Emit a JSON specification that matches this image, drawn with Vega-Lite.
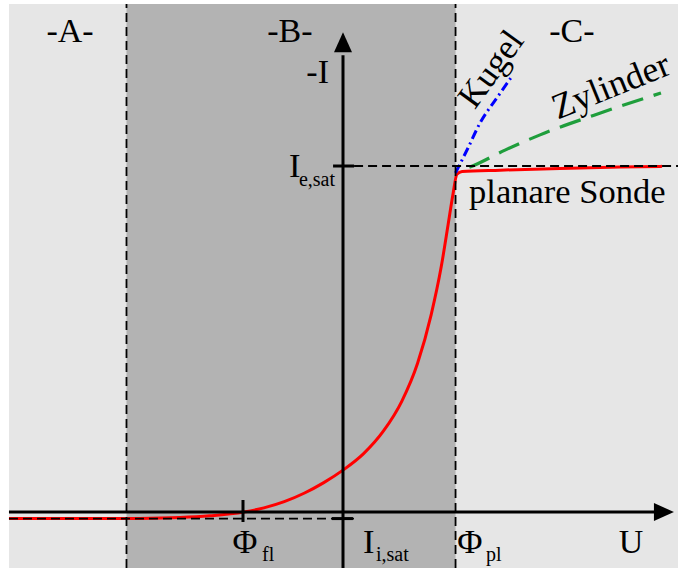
{
  "$schema": "https://vega.github.io/schema/vega-lite/v6.json",
  "width": 678,
  "height": 572,
  "padding": 0,
  "autosize": {"type": "none"},
  "background": "white",
  "config": {"view": {"stroke": null}, "font": "Liberation Serif"},
  "datasets": {
    "panel": [{"U": -14.78, "U2": 14.823, "I": -1.62, "I2": 14.68}],
    "bereichB": [{"U": -9.58, "U2": 4.98, "I": -1.62, "I2": 14.68}],
    "planar": [
      {"U": -14.78, "I": -0.19}, {"U": -11.64, "I": -0.19}, {"U": -9.0, "I": -0.185},
      {"U": -7.2, "I": -0.16}, {"U": -5.9, "I": -0.11}, {"U": -4.38, "I": 0.0},
      {"U": -3.5, "I": 0.12}, {"U": -2.6, "I": 0.3}, {"U": -1.7, "I": 0.55},
      {"U": -0.85, "I": 0.85}, {"U": 0.0, "I": 1.21}, {"U": 0.9, "I": 1.68},
      {"U": 1.8, "I": 2.35}, {"U": 2.6, "I": 3.2}, {"U": 3.3, "I": 4.3},
      {"U": 3.9, "I": 5.7}, {"U": 4.35, "I": 7.1}, {"U": 4.65, "I": 8.3},
      {"U": 4.87, "I": 9.2}, {"U": 5.04, "I": 9.76}, {"U": 5.27, "I": 9.84},
      {"U": 6.95, "I": 9.88}, {"U": 9.6, "I": 9.93}, {"U": 12.26, "I": 9.97},
      {"U": 14.12, "I": 9.99}
    ],
    "kugel": [
      {"U": 4.98, "I": 9.8}, {"U": 5.53, "I": 10.52}, {"U": 6.06, "I": 11.24},
      {"U": 6.81, "I": 11.97}, {"U": 7.52, "I": 12.63}
    ],
    "zylinder": [
      {"U": 5.13, "I": 9.86}, {"U": 5.62, "I": 9.97}, {"U": 7.17, "I": 10.46},
      {"U": 8.72, "I": 10.9}, {"U": 11.11, "I": 11.47}, {"U": 14.07, "I": 12.11}
    ],
    "grenzen": [
      {"U": -9.58, "I": -1.62, "I2": 14.68},
      {"U": 4.98, "I": -1.62, "I2": 14.68}
    ],
    "saettigung": [
      {"U": 0.49, "U2": 14.823, "I": 10.0},
      {"U": -14.78, "U2": 0.53, "I": -0.19}
    ],
    "achseU": [{"U": -14.78, "U2": 13.8, "I": 0.0}],
    "achseI": [{"U": 0.0, "I": -1.62, "I2": 13.2}],
    "ticksV": [{"U": -4.425, "I": 0.347, "I2": -0.289}],
    "ticksH": [
      {"U": -0.44, "U2": 0.49, "I": 10.0},
      {"U": -0.49, "U2": 0.44, "I": -0.19}
    ],
    "pfeilI": [{"U": 0.0, "I": 13.58}],
    "pfeilU": [{"U": 14.2, "I": 0.0}],
    "titelMitte": [
      {"U": -12.08, "I": 13.58, "label": "-A-"},
      {"U": -2.35, "I": 13.58, "label": "-B-"},
      {"U": 10.13, "I": 13.58, "label": "-C-"},
      {"U": 12.75, "I": -1.185, "label": "U"},
      {"U": -4.34, "I": -1.185, "label": "Φ"}
    ],
    "titelLinks": [
      {"U": -2.39, "I": 9.68, "label": "I"},
      {"U": 5.58, "I": 8.93, "label": "planare Sonde"},
      {"U": 0.885, "I": -1.185, "label": "I"},
      {"U": 5.05, "I": -1.185, "label": "Φ"}
    ],
    "titelRechts": [{"U": -0.62, "I": 12.4, "label": "-I"}],
    "indizes": [
      {"U": -1.95, "I": 9.42, "label": "e,sat"},
      {"U": -3.58, "I": -1.416, "label": "fl"},
      {"U": 1.46, "I": -1.416, "label": "i,sat"},
      {"U": 6.33, "I": -1.416, "label": "pl"}
    ],
    "kugelText": [{"U": 6.55, "I": 12.8, "label": "Kugel"}],
    "zylinderText": [{"U": 11.86, "I": 12.3, "label": "Zylinder"}]
  },
  "encoding": {
    "x": {"field": "U", "type": "quantitative", "axis": null,
          "scale": {"domain": [-15.177, 14.823], "nice": false, "zero": false}},
    "y": {"field": "I", "type": "quantitative", "axis": null,
          "scale": {"domain": [-1.734, 14.798], "nice": false, "zero": false}}
  },
  "layer": [
    {"data": {"name": "panel"}, "mark": {"type": "rect", "color": "#e6e6e6"},
     "encoding": {"x2": {"field": "U2"}, "y2": {"field": "I2"}}},
    {"data": {"name": "bereichB"}, "mark": {"type": "rect", "color": "#b3b3b3"},
     "encoding": {"x2": {"field": "U2"}, "y2": {"field": "I2"}}},
    {"data": {"name": "planar"},
     "mark": {"type": "line", "color": "#ff0000", "strokeWidth": 3, "interpolate": "monotone"}},
    {"data": {"name": "kugel"},
     "mark": {"type": "line", "color": "#0000ff", "strokeWidth": 3, "interpolate": "monotone", "strokeDash": [9, 4, 2, 4]}},
    {"data": {"name": "zylinder"},
     "mark": {"type": "line", "color": "#1f9e3c", "strokeWidth": 3.2, "interpolate": "monotone", "strokeDash": [22, 11], "strokeDashOffset": 22}},
    {"data": {"name": "grenzen"},
     "mark": {"type": "rule", "color": "black", "strokeWidth": 1.8, "strokeDash": [9, 5]},
     "encoding": {"y2": {"field": "I2"}}},
    {"data": {"name": "saettigung"},
     "mark": {"type": "rule", "color": "black", "strokeWidth": 1.8, "strokeDash": [9, 5]},
     "encoding": {"x2": {"field": "U2"}}},
    {"data": {"name": "achseU"}, "mark": {"type": "rule", "color": "black", "strokeWidth": 3},
     "encoding": {"x2": {"field": "U2"}}},
    {"data": {"name": "achseI"}, "mark": {"type": "rule", "color": "black", "strokeWidth": 3},
     "encoding": {"y2": {"field": "I2"}}},
    {"data": {"name": "ticksV"}, "mark": {"type": "rule", "color": "black", "strokeWidth": 3},
     "encoding": {"y2": {"field": "I2"}}},
    {"data": {"name": "ticksH"}, "mark": {"type": "rule", "color": "black", "strokeWidth": 3},
     "encoding": {"x2": {"field": "U2"}}},
    {"data": {"name": "pfeilI"},
     "mark": {"type": "point", "shape": "M0,-1L0.9,1L-0.9,1Z", "filled": true, "color": "black", "size": 400, "opacity": 1, "strokeWidth": 0}},
    {"data": {"name": "pfeilU"},
     "mark": {"type": "point", "shape": "M1,0L-1,0.9L-1,-0.9Z", "filled": true, "color": "black", "size": 400, "opacity": 1, "strokeWidth": 0}},
    {"data": {"name": "titelMitte"},
     "mark": {"type": "text", "fontSize": 34, "align": "center", "baseline": "alphabetic", "color": "black"},
     "encoding": {"text": {"field": "label"}}},
    {"data": {"name": "titelLinks"},
     "mark": {"type": "text", "fontSize": 34.5, "align": "left", "baseline": "alphabetic", "color": "black"},
     "encoding": {"text": {"field": "label"}}},
    {"data": {"name": "titelRechts"},
     "mark": {"type": "text", "fontSize": 34, "align": "right", "baseline": "alphabetic", "color": "black"},
     "encoding": {"text": {"field": "label"}}},
    {"data": {"name": "indizes"},
     "mark": {"type": "text", "fontSize": 20, "align": "left", "baseline": "alphabetic", "color": "black"},
     "encoding": {"text": {"field": "label"}}},
    {"data": {"name": "kugelText"},
     "mark": {"type": "text", "fontSize": 35, "align": "center", "baseline": "middle", "angle": 306, "color": "black"},
     "encoding": {"text": {"field": "label"}}},
    {"data": {"name": "zylinderText"},
     "mark": {"type": "text", "fontSize": 36, "align": "center", "baseline": "middle", "angle": 338, "color": "black"},
     "encoding": {"text": {"field": "label"}}}
  ]
}
